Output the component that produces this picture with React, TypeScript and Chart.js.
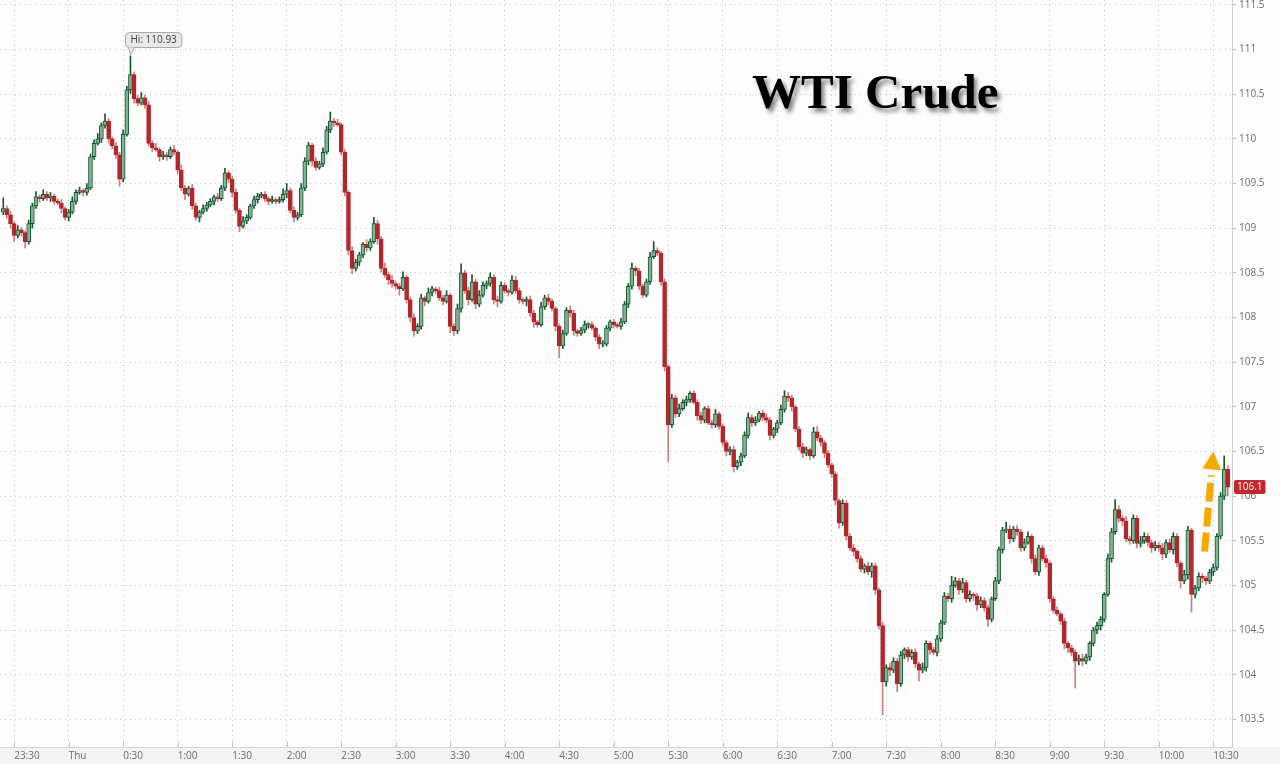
import React, { useEffect, useRef } from "react";
import { Chart, registerables } from "chart.js";

Chart.register(...registerables);

// ---- data (2-minute candles, minutes measured from Thu 00:00) ----
const START_MINUTE = -36; // 23:24 Wed
const BAR_MINUTES = 2;
const FIRST_OPEN = 109.18;

const CLOSES: number[] = [
  109.22,109.15,109.05,108.92,108.98,108.95,108.85,109.05,109.25,109.35,109.33,109.38,109.34,109.36,109.30,109.28,109.22,109.12,109.18,109.30,
  109.40,109.42,109.40,109.45,109.80,109.95,110.00,110.15,110.20,110.00,109.92,109.82,109.55,110.05,110.55,110.72,110.45,110.40,110.46,110.38,
  109.95,109.90,109.88,109.80,109.82,109.80,109.88,109.85,109.65,109.45,109.38,109.45,109.25,109.12,109.18,109.22,109.26,109.30,109.35,109.33,
  109.45,109.62,109.55,109.40,109.20,109.02,109.08,109.12,109.25,109.32,109.36,109.38,109.33,109.30,109.32,109.30,109.32,109.38,109.42,109.20,
  109.12,109.15,109.45,109.75,109.93,109.75,109.68,109.72,109.85,110.10,110.20,110.18,110.16,109.85,109.40,108.75,108.55,108.62,108.70,108.82,
  108.78,108.85,109.05,108.88,108.55,108.48,108.42,108.38,108.35,108.32,108.45,108.20,108.00,107.85,107.90,108.22,108.18,108.28,108.32,108.30,
  108.22,108.18,108.25,107.90,107.85,108.10,108.50,108.30,108.20,108.40,108.15,108.25,108.36,108.38,108.45,108.20,108.18,108.36,108.30,108.28,
  108.42,108.30,108.20,108.18,108.20,108.05,107.95,107.92,108.12,108.22,108.18,108.10,107.90,107.68,107.82,108.08,108.05,107.85,107.82,107.86,
  107.92,107.92,107.88,107.78,107.70,107.70,107.88,107.95,107.92,107.90,107.95,108.15,108.35,108.55,108.52,108.35,108.25,108.40,108.68,108.75,
  108.72,108.40,107.45,106.80,107.10,106.92,106.98,107.05,107.08,107.15,107.05,106.90,106.85,106.98,106.82,106.80,106.92,106.78,106.60,106.50,
  106.52,106.33,106.38,106.45,106.68,106.88,106.82,106.85,106.93,106.88,106.85,106.68,106.75,106.82,106.97,107.12,107.10,107.00,106.75,106.55,
  106.48,106.52,106.45,106.72,106.65,106.60,106.48,106.35,106.25,105.95,105.70,105.92,105.55,105.42,105.38,105.30,105.18,105.22,105.15,105.22,
  104.95,104.55,103.92,104.08,104.05,104.15,103.90,104.22,104.28,104.20,104.25,104.12,104.05,104.08,104.35,104.28,104.25,104.40,104.58,104.88,
  104.85,105.00,105.05,104.95,105.03,104.85,104.90,104.88,104.78,104.83,104.75,104.62,104.85,105.05,105.40,105.62,105.63,105.52,105.63,105.60,
  105.42,105.48,105.55,105.30,105.15,105.42,105.30,105.25,104.85,104.72,104.68,104.60,104.35,104.30,104.25,104.15,104.18,104.15,104.20,104.35,
  104.50,104.55,104.62,104.90,105.30,105.60,105.85,105.75,105.72,105.52,105.50,105.75,105.47,105.50,105.55,105.48,105.42,105.45,105.42,105.35,
  105.48,105.40,105.55,105.25,105.05,105.12,105.62,104.90,104.97,105.10,105.08,105.05,105.15,105.20,105.55,106.00,106.30,106.10,
];

// upper wick above the body, in cents
const WICK_UP: number[] = [
  12,3,4,2,5,3,2,4,3,6,2,5,3,4,2,3,4,2,3,5,
  3,4,2,5,3,4,6,3,8,3,2,4,3,5,4,21,3,4,6,3,
  4,3,5,2,4,3,3,5,2,6,3,2,4,3,2,4,3,3,2,4,
  3,5,2,3,4,2,5,3,2,4,3,2,3,2,4,2,3,6,8,3,
  4,3,5,4,3,2,4,3,5,4,10,3,4,2,3,2,4,3,3,2,
  5,3,7,4,3,6,3,5,2,3,6,2,3,4,3,4,2,5,3,2,
  4,3,5,2,3,5,10,3,4,8,3,5,4,3,5,3,4,4,3,2,
  5,4,3,2,3,4,3,2,5,3,4,3,2,3,4,3,5,3,2,3,
  4,2,3,2,3,4,3,2,3,2,4,3,3,6,2,3,2,3,5,10,
  3,2,3,2,4,3,5,3,4,2,3,3,4,2,3,3,5,2,3,2,
  3,4,2,3,4,5,3,4,2,3,4,3,2,3,5,6,4,3,2,3,
  4,3,2,5,6,3,2,3,2,3,2,4,3,3,4,2,3,2,4,3,
  3,2,4,3,5,4,3,4,2,3,3,4,2,5,3,2,3,4,3,4,
  3,10,4,3,5,3,4,2,3,4,3,3,2,4,3,3,8,4,3,4,
  3,4,5,2,4,3,3,4,2,3,4,2,3,2,3,3,4,5,3,2,
  3,4,3,2,5,4,11,4,3,5,3,4,3,5,4,3,3,4,3,5,
  3,4,4,3,2,5,4,2,3,4,3,2,3,4,3,4,15,4,
];

// lower wick below the body, in cents
const WICK_DOWN: number[] = [
  3,4,5,7,3,4,7,3,5,3,4,2,3,4,3,2,5,3,4,2,
  3,2,4,3,2,3,2,4,3,5,3,4,8,3,2,4,5,3,2,4,
  3,4,2,5,3,4,2,3,4,3,6,2,4,3,5,2,3,2,4,3,
  2,3,4,5,3,6,2,3,2,3,4,2,3,4,2,3,2,3,4,3,
  5,3,2,3,4,5,3,2,3,2,3,4,2,3,4,5,6,3,4,3,
  4,3,2,6,4,3,5,4,3,7,2,4,5,6,3,3,5,2,4,3,
  3,4,2,7,5,3,4,3,6,2,5,3,2,4,3,5,6,2,3,4,
  2,3,4,3,5,4,6,3,2,3,4,3,5,13,3,2,4,5,3,2,
  3,4,2,4,5,3,2,3,4,2,3,2,4,3,5,4,3,2,3,2,
  3,4,5,42,3,4,3,2,4,3,2,5,4,3,2,4,3,3,4,5,
  4,6,3,4,2,3,4,3,2,4,3,5,3,4,2,3,4,5,3,4,
  5,3,4,2,3,4,5,3,4,5,6,3,4,3,5,4,3,4,3,6,
  5,4,37,5,6,3,9,3,4,5,3,4,12,3,4,5,3,4,3,2,
  3,4,2,5,3,4,3,5,6,3,4,8,3,2,3,4,3,5,3,4,
  4,3,2,5,3,4,3,5,4,3,2,4,6,5,4,30,4,5,3,4,
  3,4,5,3,2,4,3,4,5,3,4,3,5,4,3,4,5,3,4,6,
  4,3,5,4,8,3,5,20,4,3,5,4,3,4,3,3,4,10,
];

const X_TICK_MINUTES = [-30,0,30,60,90,120,150,180,210,240,270,300,330,360,390,420,450,480,510,540,570,600,630];
const X_TICK_LABELS = ["23:30","Thu","0:30","1:00","1:30","2:00","2:30","3:00","3:30","4:00","4:30","5:00","5:30","6:00","6:30","7:00","7:30","8:00","8:30","9:00","9:30","10:00","10:30"];
const Y_TICKS = [103.5,104,104.5,105,105.5,106,106.5,107,107.5,108,108.5,109,109.5,110,110.5,111,111.5];

const ARROW_FROM = [625.2, 105.38];
const ARROW_TO = [630.0, 106.5];
const TITLE = "WTI Crude";

// ---- view / style ----
const X_MIN = -37.8;
const X_MAX = 640.3;
const Y_MIN = 103.19;
const Y_MAX = 111.555;
const W = 1280;
const H = 764;
const GREEN_LINE = "#15582f";
const GREEN_FILL = "#82b193";
const RED_FILL = "#b3262c";
const RED_WICK = "#d27d80";
const ORANGE = "#f5a900";
const AXIS_FONT = { family: "'Open Sans', 'DejaVu Sans', sans-serif", size: 10 };

function roundRect(ctx: CanvasRenderingContext2D, x: number, y: number, w: number, h: number, r: number) {
  ctx.beginPath();
  ctx.moveTo(x + r, y);
  ctx.lineTo(x + w - r, y);
  ctx.quadraticCurveTo(x + w, y, x + w, y + r);
  ctx.lineTo(x + w, y + h - r);
  ctx.quadraticCurveTo(x + w, y + h, x + w - r, y + h);
  ctx.lineTo(x + r, y + h);
  ctx.quadraticCurveTo(x, y + h, x, y + h - r);
  ctx.lineTo(x, y + r);
  ctx.quadraticCurveTo(x, y, x + r, y);
  ctx.closePath();
}

export default function App() {
  const ref = useRef<HTMLCanvasElement>(null);

  useEffect(() => {
    const canvas = ref.current;
    if (!canvas) return;
    const times = CLOSES.map((_, i) => START_MINUTE + i * BAR_MINUTES);
    const opens = CLOSES.map((_, i) => (i === 0 ? FIRST_OPEN : CLOSES[i - 1]));
    const highs = CLOSES.map((c, i) => Math.max(opens[i], c) + WICK_UP[i] / 100);
    const lows = CLOSES.map((c, i) => Math.min(opens[i], c) - WICK_DOWN[i] / 100);
    const rising = CLOSES.map((c, i) => c >= opens[i]);

    let hiIdx = 0;
    highs.forEach((h, i) => { if (h > highs[hiIdx]) hiIdx = i; });
    const lastIdx = CLOSES.length - 1;

    const bg = {
      id: "bg",
      beforeDraw(chart: any) {
        const { ctx, chartArea } = chart;
        ctx.save();
        ctx.fillStyle = "#fdfdfd";
        ctx.fillRect(0, 0, chart.width, chart.height);
        ctx.fillStyle = "#f3f3f3";
        ctx.fillRect(0, chartArea.bottom, chart.width, chart.height - chartArea.bottom);
        ctx.restore();
      },
    };

    const overlay = {
      id: "overlay",
      afterDatasetsDraw(chart: any) {
        const { ctx, chartArea } = chart;
        const xs = chart.scales.x;
        const ys = chart.scales.y;
        ctx.save();
        // small tick marks above the time axis
        ctx.strokeStyle = "#c4c4c4";
        ctx.lineWidth = 1;
        X_TICK_MINUTES.forEach((m) => {
          const px = Math.round(xs.getPixelForValue(m)) + 0.5;
          ctx.beginPath();
          ctx.moveTo(px, chartArea.bottom - 5);
          ctx.lineTo(px, chartArea.bottom);
          ctx.stroke();
        });

        // orange dashed arrow
        const x0 = xs.getPixelForValue(ARROW_FROM[0]);
        const y0 = ys.getPixelForValue(ARROW_FROM[1]);
        const x1 = xs.getPixelForValue(ARROW_TO[0]);
        const y1 = ys.getPixelForValue(ARROW_TO[1]);
        const len = Math.hypot(x1 - x0, y1 - y0);
        const ux = (x1 - x0) / len;
        const uy = (y1 - y0) / len;
        const headLen = 18;
        const headHalf = 9.5;
        const bx = x1 - ux * headLen;
        const by = y1 - uy * headLen;
        ctx.strokeStyle = ORANGE;
        ctx.lineWidth = 7;
        ctx.lineCap = "butt";
        ctx.setLineDash([19, 6]);
        ctx.beginPath();
        ctx.moveTo(x0, y0);
        ctx.lineTo(bx - ux * 6, by - uy * 6);
        ctx.stroke();
        ctx.setLineDash([]);
        ctx.fillStyle = ORANGE;
        ctx.beginPath();
        ctx.moveTo(x1, y1);
        ctx.lineTo(bx - uy * headHalf, by + ux * headHalf);
        ctx.lineTo(bx + uy * headHalf, by - ux * headHalf);
        ctx.closePath();
        ctx.fill();

        // "Hi" callout
        const tipX = xs.getPixelForValue(times[hiIdx]);
        const tipY = ys.getPixelForValue(highs[hiIdx]);
        const text = "Hi: " + highs[hiIdx].toFixed(2);
        ctx.font = "10px 'Open Sans', 'DejaVu Sans', sans-serif";
        const tw = ctx.measureText(text).width;
        const bw = tw + 10;
        const bh = 15;
        const bxl = Math.round(tipX - 5) + 0.5;
        const byt = Math.round(tipY - 24) + 0.5;
        ctx.fillStyle = "#e8e8e8";
        ctx.strokeStyle = "#a9a9a9";
        ctx.lineWidth = 1;
        roundRect(ctx, bxl, byt, bw, bh, 4);
        ctx.fill();
        ctx.stroke();
        ctx.beginPath();
        ctx.moveTo(bxl + 3, byt + bh);
        ctx.lineTo(tipX, tipY - 1);
        ctx.lineTo(bxl + 9, byt + bh);
        ctx.closePath();
        ctx.fill();
        ctx.beginPath();
        ctx.moveTo(bxl + 3, byt + bh);
        ctx.lineTo(tipX, tipY - 1);
        ctx.lineTo(bxl + 9, byt + bh);
        ctx.stroke();
        ctx.fillStyle = "#444";
        ctx.textBaseline = "middle";
        ctx.textAlign = "left";
        ctx.fillText(text, bxl + 5, byt + bh / 2 + 0.5);
        ctx.restore();
      },
      afterDraw(chart: any) {
        const { ctx, chartArea } = chart;
        const ys = chart.scales.y;
        const py = ys.getPixelForValue(CLOSES[lastIdx]);
        const label = String(Number(CLOSES[lastIdx].toFixed(2)));
        ctx.save();
        ctx.font = "10px 'Open Sans', 'DejaVu Sans', sans-serif";
        const tw = ctx.measureText(label).width;
        const w = tw + 6;
        const h = 14;
        const left = chartArea.right + 2;
        ctx.fillStyle = "#c3282e";
        roundRect(ctx, left, Math.round(py - h / 2), w, h, 2);
        ctx.fill();
        ctx.fillStyle = "#ffffff";
        ctx.textBaseline = "middle";
        ctx.textAlign = "center";
        ctx.fillText(label, left + w / 2, Math.round(py) + 0.5);
        ctx.restore();
      },
    };

    const chart = new Chart(canvas, {
      type: "bar",
      data: {
        datasets: [
          {
            label: "wick",
            data: times.map((t, i) => ({ x: t, y: [lows[i], highs[i]] })) as any,
            backgroundColor: rising.map((u) => (u ? GREEN_LINE : RED_WICK)),
            borderWidth: 0,
            barThickness: 1,
            grouped: false,
            order: 2,
          } as any,
          {
            label: "body",
            data: times.map((t, i) => ({ x: t, y: [opens[i], CLOSES[i]] })) as any,
            backgroundColor: rising.map((u) => (u ? GREEN_FILL : RED_FILL)),
            borderColor: rising.map((u) => (u ? GREEN_LINE : RED_FILL)),
            borderWidth: 1,
            borderSkipped: false,
            barThickness: 4,
            minBarLength: 1,
            grouped: false,
            order: 1,
          } as any,
        ],
      },
      options: {
        animation: false,
        responsive: false,
        events: [],
        layout: { padding: 0 },
        plugins: {
          legend: { display: false },
          tooltip: { enabled: false },
          title: { display: false },
        },
        scales: {
          x: {
            type: "linear",
            position: "bottom",
            min: X_MIN,
            max: X_MAX,
            bounds: "data",
            offset: false,
            afterBuildTicks: (s: any) => {
              s.ticks = X_TICK_MINUTES.map((v) => ({ value: v }));
            },
            afterFit: (s: any) => {
              s.height = H - 747;
              s.paddingLeft = 0;
              s.paddingRight = 0;
              s.paddingTop = 0;
              s.paddingBottom = 0;
            },
            ticks: {
              autoSkip: false,
              maxRotation: 0,
              minRotation: 0,
              align: "start",
              padding: 3,
              color: "#6b6b6b",
              font: AXIS_FONT,
              callback: (v: any) => {
                const k = X_TICK_MINUTES.indexOf(Number(v));
                return k >= 0 ? X_TICK_LABELS[k] : "";
              },
            },
            grid: { color: "#c9c9c9", lineWidth: 1, drawTicks: false, offset: false },
            border: { display: true, color: "#d2d2d2", width: 1, dash: [1, 4] },
          },
          y: {
            type: "linear",
            position: "right",
            min: Y_MIN,
            max: Y_MAX,
            bounds: "data",
            beginAtZero: false,
            afterBuildTicks: (s: any) => {
              s.ticks = Y_TICKS.map((v) => ({ value: v }));
            },
            afterFit: (s: any) => {
              s.width = 48;
              s.paddingLeft = 0;
              s.paddingRight = 0;
              s.paddingTop = 0;
              s.paddingBottom = 0;
            },
            ticks: {
              padding: 3,
              color: "#6b6b6b",
              font: AXIS_FONT,
              callback: (v: any) => String(v),
            },
            grid: { color: "#c9c9c9", lineWidth: 1, drawTicks: true, tickLength: 4, tickColor: "#bdbdbd" },
            border: { display: true, color: "#cfcfcf", width: 1, dash: [1, 4] },
          },
        },
      } as any,
      plugins: [bg, overlay],
    });

    return () => chart.destroy();
  }, []);

  return (
    <div style={{ position: "fixed", left: 0, top: 0, width: W, height: H, overflow: "hidden" }}>
      <canvas ref={ref} width={W} height={H} style={{ display: "block", width: W, height: H }} />
      <div
        style={{
          position: "absolute",
          left: 752,
          top: 67,
          fontFamily: "'Liberation Serif', 'Times New Roman', serif",
          fontWeight: 700,
          fontSize: 49,
          lineHeight: "49px",
          color: "#000",
          whiteSpace: "nowrap",
          textShadow: "3px 4px 4px rgba(0,0,0,0.5)",
          pointerEvents: "none",
        }}
      >
        {TITLE}
      </div>
    </div>
  );
}
